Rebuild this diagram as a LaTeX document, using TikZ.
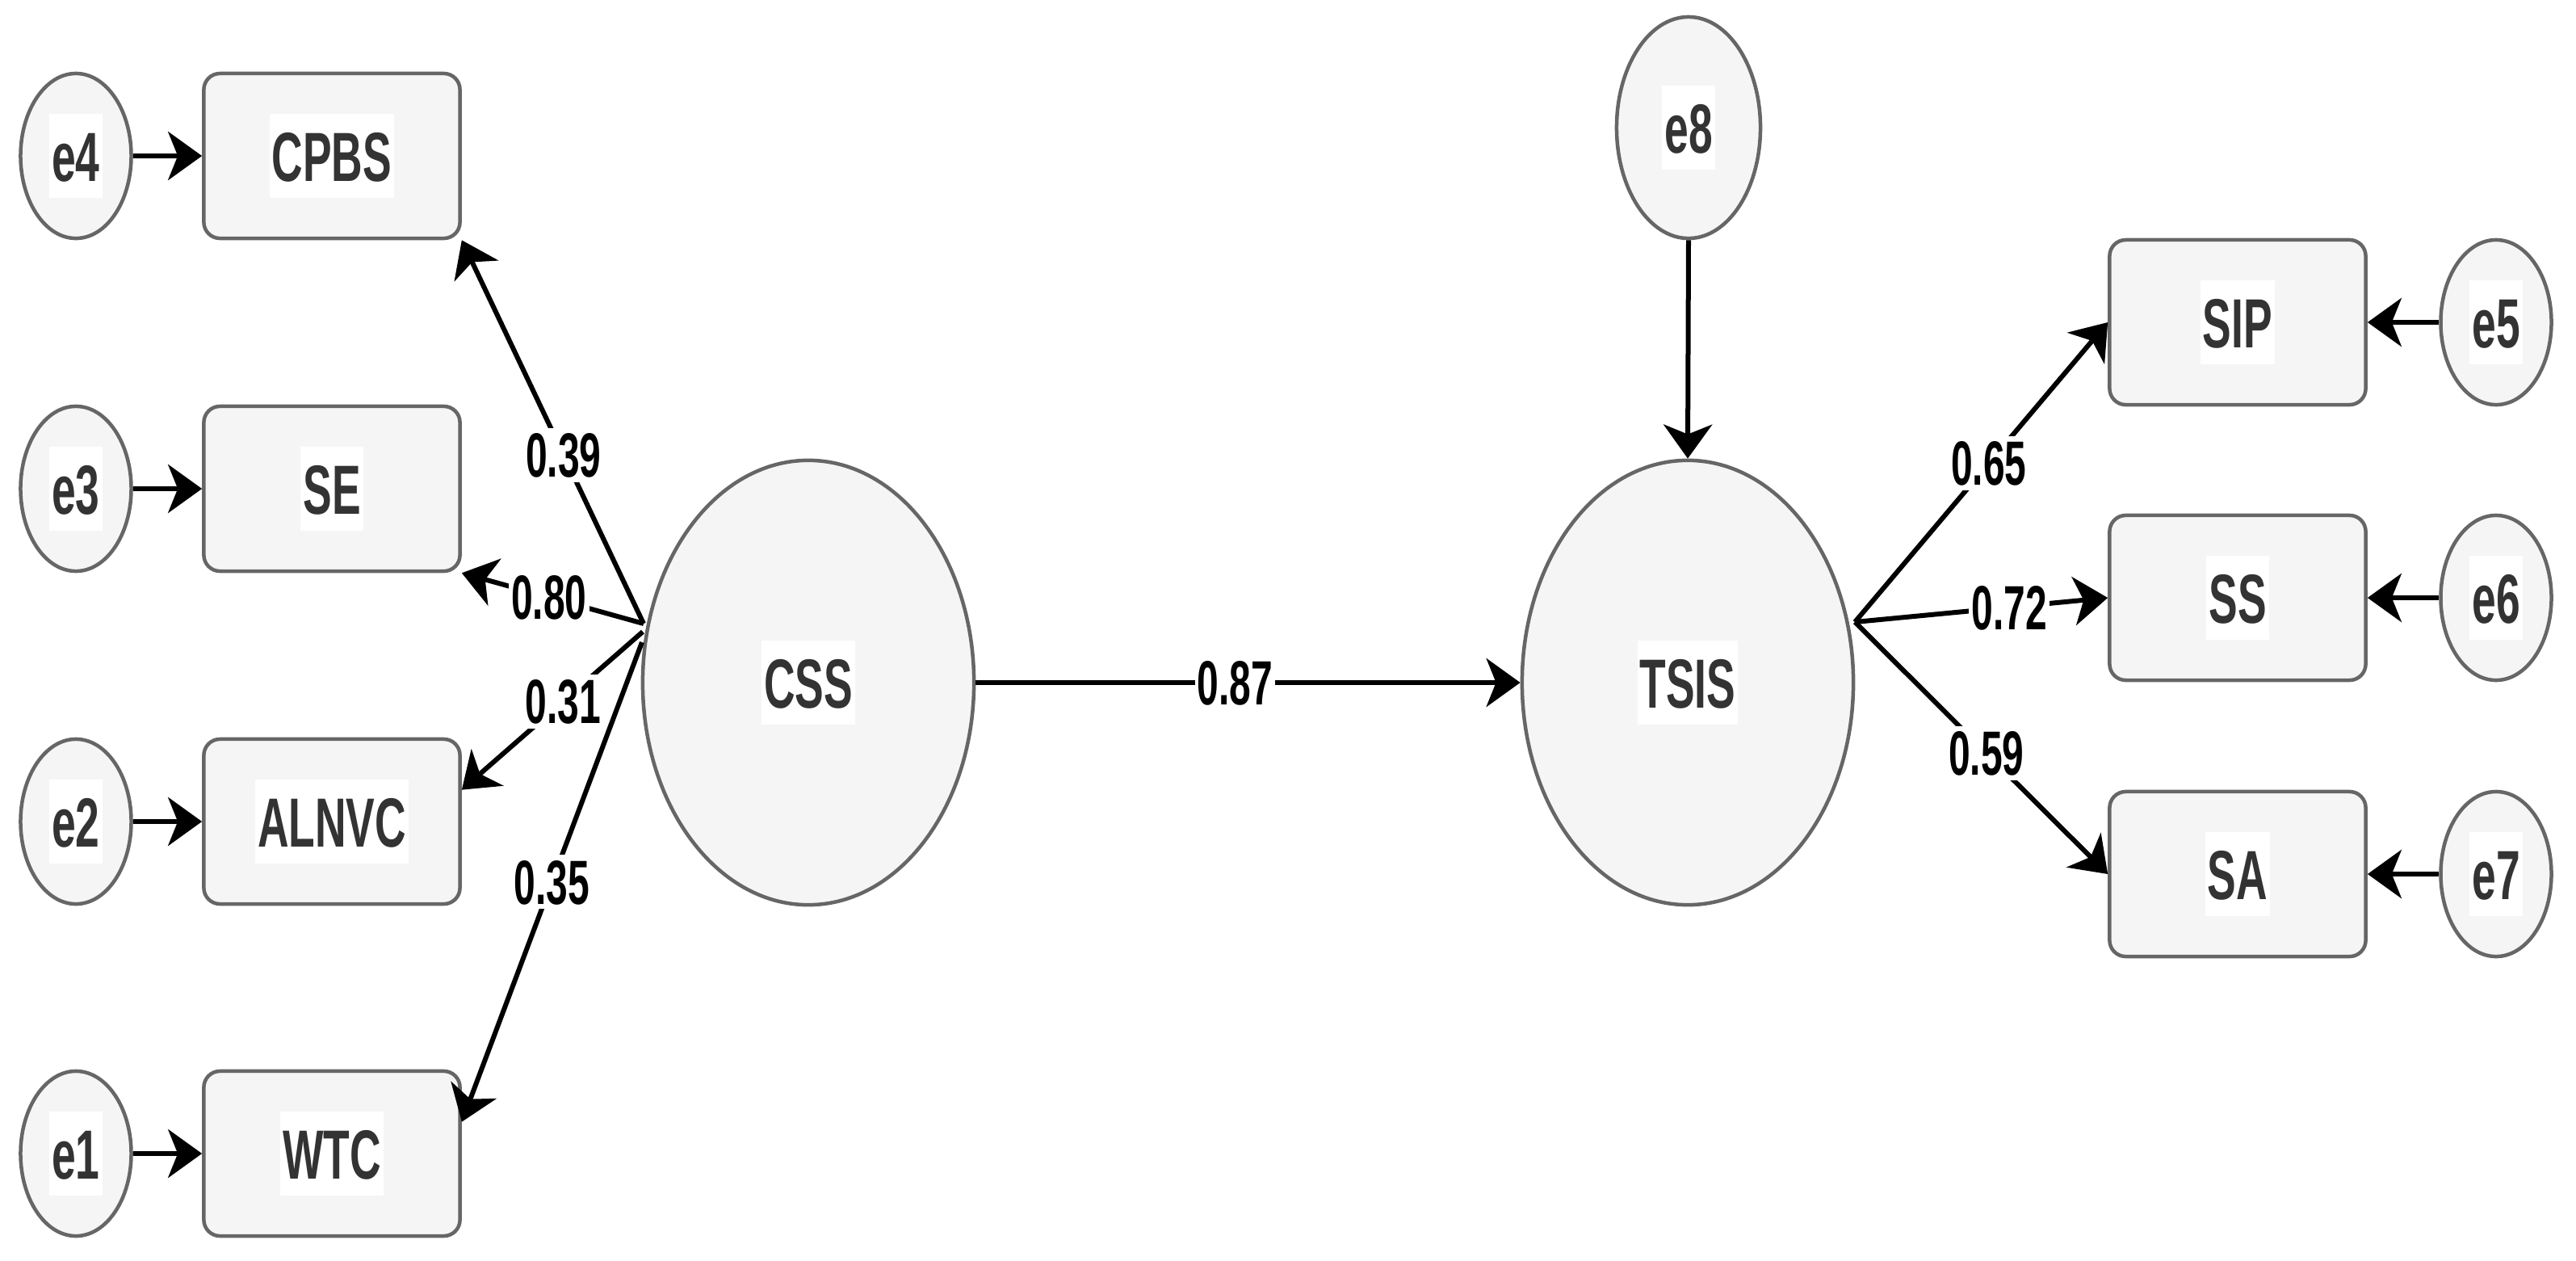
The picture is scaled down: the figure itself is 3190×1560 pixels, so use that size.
\documentclass[tikz,border=0pt]{standalone}
\usepackage{fontspec}
\newfontfamily\nfont{Liberation Sans}[FakeStretch=0.62]
\usetikzlibrary{arrows.meta,shapes.geometric,calc}
\definecolor{bordergray}{HTML}{666666}
\definecolor{fillgray}{HTML}{F5F5F5}
\definecolor{txtgray}{HTML}{333333}
\begin{document}
\begin{tikzpicture}[x=0.01cm,y=-0.01cm,
  shp/.style={draw=bordergray,fill=fillgray,line width=0.045cm,inner sep=0pt},
  latent/.style={shp,ellipse,minimum width=4.1cm,minimum height=5.5cm},
  errn/.style={shp,ellipse,minimum width=1.37cm,minimum height=2.04cm},
  errbig/.style={shp,ellipse,minimum width=1.78cm,minimum height=2.74cm},
  obs/.style={shp,rectangle,rounded corners=0.2cm,minimum width=3.17cm,minimum height=2.04cm},
  txt/.style={fill=white,inner xsep=0.03cm,inner ysep=0.2cm,text height=0.63cm,text depth=0pt,
    text=txtgray,font=\nfont\bfseries\fontsize{24.5}{28}\selectfont},
  lbl/.style={fill=white,inner xsep=0.03cm,inner ysep=0.06cm,text height=0.55cm,text depth=0pt,
    text=black,font=\nfont\bfseries\fontsize{22}{26}\selectfont},
  arr/.style={-{Stealth[length=0.42cm,width=0.6cm,inset=0.12cm]},line width=0.06cm,black}
]
\useasboundingbox (0,0) rectangle (3190,1560);
% left error terms
\node[errn,label={[txt]center:e4}] (e4) at (94,193) {};
\node[errn,label={[txt]center:e3}] (e3) at (94,605) {};
\node[errn,label={[txt]center:e2}] (e2) at (94,1017) {};
\node[errn,label={[txt]center:e1}] (e1) at (94,1428) {};
% left indicators
\node[obs,label={[txt]center:CPBS}] (cpbs) at (411,193) {};
\node[obs,label={[txt]center:SE}] (se) at (411,605) {};
\node[obs,label={[txt]center:ALNVC}] (alnvc) at (411,1017) {};
\node[obs,label={[txt]center:WTC}] (wtc) at (411,1428) {};
% latents
\node[latent,label={[txt]center:CSS}] (css) at (1001,845) {};
\node[latent,label={[txt]center:TSIS}] (tsis) at (2090,845) {};
\node[errbig,label={[txt]center:e8}] (e8) at (2091,158) {};
% right indicators
\node[obs,label={[txt]center:SIP}] (sip) at (2771,399) {};
\node[obs,label={[txt]center:SS}] (ss) at (2771,740) {};
\node[obs,label={[txt]center:SA}] (sa) at (2771,1082) {};
\node[errn,label={[txt]center:e5}] (e5) at (3091,399) {};
\node[errn,label={[txt]center:e6}] (e6) at (3091,740) {};
\node[errn,label={[txt]center:e7}] (e7) at (3091,1082) {};
% helper coordinates
\coordinate (cssA) at (797,772);
\coordinate (cssB) at (796,782);
\coordinate (cssC) at (795,795);
\coordinate (tsisA) at (2297,770);
\coordinate (alnvcT) at ($(alnvc.north east)+(0,65)$);
\coordinate (wtcT) at ($(wtc.north east)+(0,65)$);
% error arrows
\draw[arr] (e4.east) -- (cpbs.west);
\draw[arr] (e3.east) -- (se.west);
\draw[arr] (e2.east) -- (alnvc.west);
\draw[arr] (e1.east) -- (wtc.west);
\draw[arr] (e5.west) -- (sip.east);
\draw[arr] (e6.west) -- (ss.east);
\draw[arr] (e7.west) -- (sa.east);
\draw[arr] (e8.south) -- (tsis.north);
% loadings
\draw[arr] (cssA) -- node[lbl,pos=0.44]{0.39} (cpbs.south east);
\draw[arr] (cssA) -- node[lbl,pos=0.52]{0.80} (se.south east);
\draw[arr] (cssB) -- node[lbl,pos=0.44]{0.31} (alnvcT);
\draw[arr] (cssC) -- node[lbl,pos=0.50]{0.35} (wtcT);
\draw[arr] (css.east) -- node[lbl,pos=0.476]{0.87} (tsis.west);
\draw[arr] (tsisA) -- node[lbl,pos=0.53]{0.65} (sip.west);
\draw[arr] (tsisA) -- node[lbl,pos=0.61]{0.72} (ss.west);
\draw[arr] (tsisA) -- node[lbl,pos=0.52]{0.59} (sa.west);
\end{tikzpicture}
\end{document}
